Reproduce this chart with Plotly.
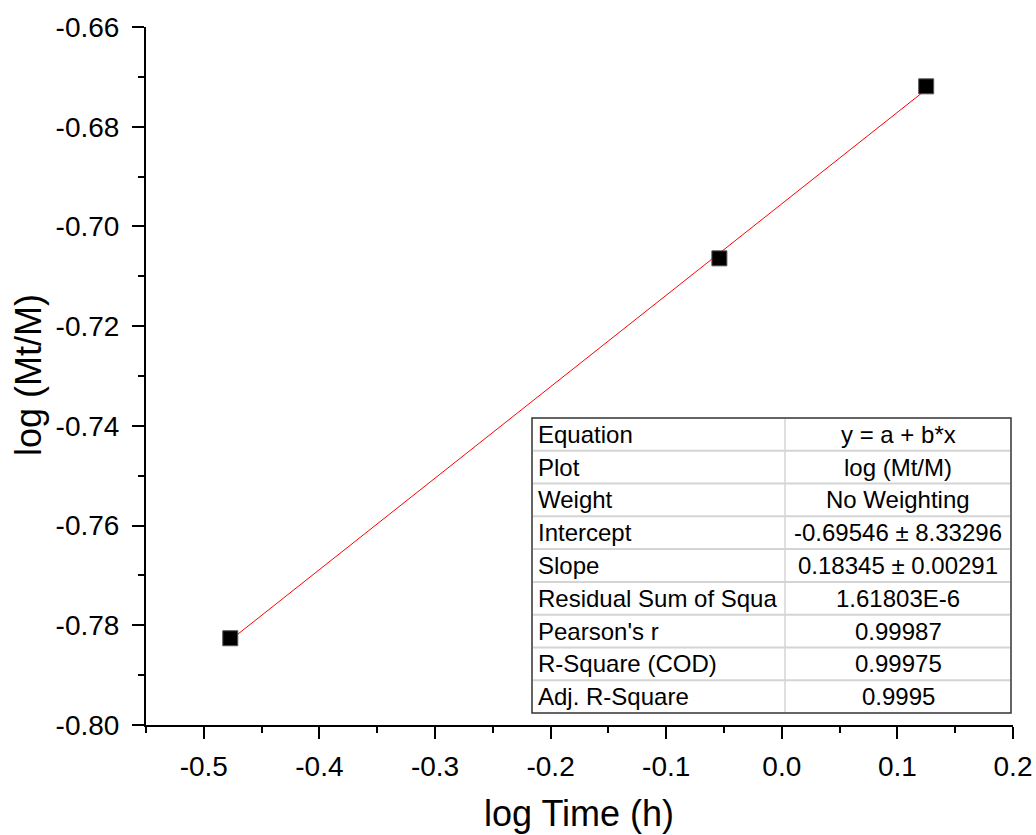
import plotly.graph_objects as go

# data
log_time = [-0.4771, -0.0540, 0.1249]
log_mt_m = [-0.7826, -0.7064, -0.6719]
intercept = -0.69546
slope = 0.18345
fit_x = [log_time[0], log_time[-1]]
fit_y = [intercept + slope * x for x in fit_x]

x_ticks = [-0.5, -0.4, -0.3, -0.2, -0.1, 0.0, 0.1, 0.2]
x_ticktext = ["-0.5", "-0.4", "-0.3", "-0.2", "-0.1", "0.0", "0.1", "0.2"]
y_ticks = [-0.80, -0.78, -0.76, -0.74, -0.72, -0.70, -0.68, -0.66]
y_ticktext = ["-0.80", "-0.78", "-0.76", "-0.74", "-0.72", "-0.70", "-0.68", "-0.66"]

table_labels = ["Equation", "Plot", "Weight", "Intercept", "Slope",
                "Residual Sum of Squa", "Pearson's r", "R-Square (COD)", "Adj. R-Square"]
table_values = ["y = a + b*x", "log (Mt/M)", "No Weighting", "-0.69546 ± 8.33296",
                "0.18345 ± 0.00291", "1.61803E-6", "0.99987", "0.99975", "0.9995"]

FONT = "Liberation Sans, Arial, sans-serif"

fig = go.Figure()
fig.add_trace(go.Scatter(x=fit_x, y=fit_y, mode="lines",
                         line=dict(color="#ff0000", width=1), showlegend=False))
fig.add_trace(go.Scatter(x=log_time, y=log_mt_m, mode="markers",
                         marker=dict(symbol="square", size=15, color="black",
                                     line=dict(color="#555555", width=1)),
                         showlegend=False))

W, H = 1036, 835
L, R, T, B = 146, 23, 27, 110
PX0, PX1, PY0, PY1 = L, W - R, T, H - B

def px2x(px):
    return (px - PX0) / (PX1 - PX0)

def py2y(py):
    return (PY1 - py) / (PY1 - PY0)

# table
tx0, tx1, tdiv = 532, 1011, 785
ty0, ty1 = 418, 713
n = len(table_labels)
rh = (ty1 - ty0) / n
shapes = []
shapes.append(dict(type="rect", xref="paper", yref="paper",
                   x0=px2x(tx0), x1=px2x(tx1), y0=py2y(ty1), y1=py2y(ty0),
                   fillcolor="white", line=dict(color="#333333", width=1.5), layer="above"))
for i in range(1, n):
    yy = py2y(ty0 + i * rh)
    shapes.append(dict(type="line", xref="paper", yref="paper",
                       x0=px2x(tx0 + 1), x1=px2x(tx1 - 1), y0=yy, y1=yy,
                       line=dict(color="#d4d4d4", width=2), layer="above"))
shapes.append(dict(type="line", xref="paper", yref="paper",
                   x0=px2x(tdiv), x1=px2x(tdiv), y0=py2y(ty1 - 1), y1=py2y(ty0 + 1),
                   line=dict(color="#d4d4d4", width=1.5), layer="above"))

annotations = []
for i, (lab, val) in enumerate(zip(table_labels, table_values)):
    yc = py2y(ty0 + (i + 0.5) * rh)
    annotations.append(dict(text=lab, xref="paper", yref="paper", x=px2x(tx0 + 4), y=yc,
                            xanchor="left", yanchor="middle", showarrow=False,
                            font=dict(family=FONT, size=24, color="black")))
    annotations.append(dict(text=val, xref="paper", yref="paper", x=px2x((tdiv + tx1) / 2), y=yc,
                            xanchor="center", yanchor="middle", showarrow=False,
                            font=dict(family=FONT, size=24, color="black")))

# axis titles as annotations (exact placement)
annotations.append(dict(text="log Time (h)", xref="paper", yref="paper",
                        x=px2x(579), y=py2y(813), xanchor="center", yanchor="middle",
                        showarrow=False, font=dict(family=FONT, size=36, color="black")))
annotations.append(dict(text="log (Mt/M)", xref="paper", yref="paper",
                        x=px2x(28), y=py2y(375), xanchor="center", yanchor="middle",
                        textangle=-90, showarrow=False,
                        font=dict(family=FONT, size=36, color="black")))

axis_common = dict(showline=True, linecolor="black", linewidth=2, ticks="outside",
                   ticklen=12, tickwidth=2, tickcolor="black", showgrid=False, zeroline=False,
                   tickfont=dict(family=FONT, size=28, color="black"),
                   mirror=False, automargin=False, ticklabeloverflow="allow")

fig.update_layout(
    width=W, height=H,
    margin=dict(l=L, r=R, t=T, b=B, pad=0),
    paper_bgcolor="white", plot_bgcolor="white",
    font=dict(family=FONT, color="black"),
    xaxis=dict(range=[-0.55, 0.2], tickvals=x_ticks, ticktext=x_ticktext,
               minor=dict(tickvals=[-0.55, -0.45, -0.35, -0.25, -0.15, -0.05, 0.05, 0.15],
                          ticks="outside", ticklen=6, tickwidth=2, tickcolor="black"),
               ticklabelstandoff=3,
               **axis_common),
    yaxis=dict(range=[-0.80, -0.66], tickvals=y_ticks, ticktext=y_ticktext,
               minor=dict(tickvals=[-0.79, -0.77, -0.75, -0.73, -0.71, -0.69, -0.67],
                          ticks="outside", ticklen=6, tickwidth=2, tickcolor="black"),
               ticklabelstandoff=7,
               **axis_common),
    shapes=shapes,
    annotations=annotations,
)

fig.write_html("out.html")
